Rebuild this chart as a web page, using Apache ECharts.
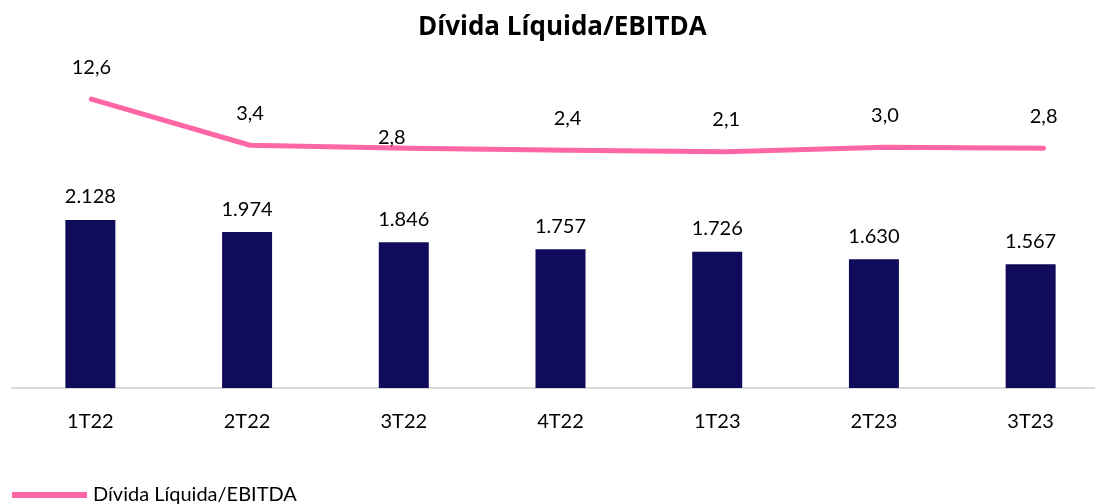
<!DOCTYPE html>
<html>
<head>
<meta charset="utf-8">
<script src="https://cdn.jsdelivr.net/npm/echarts@6/dist/echarts.min.js"></script>
<style>
  html, body { margin: 0; padding: 0; background: #fff; overflow: hidden; }
  /* the source chart is cut off on the right, so the canvas is wider than the window */
  #chart { width: 1130px; height: 504px; }
</style>
</head>
<body>
<div id="chart"></div>
<script>
// data
const categories = ['1T22', '2T22', '3T22', '4T22', '1T23', '2T23', '3T23']
const dividaLiquida = [2128, 1974, 1846, 1757, 1726, 1630, 1567]
const dividaEbitda = [12.6, 3.4, 2.8, 2.4, 2.1, 3.0, 2.8]

const font = 'Lato, "Open Sans", sans-serif'
const navy = '#110B5C'
const pink = '#FF66A6'

const fmtThousands = v => v.toLocaleString('de-DE')
const fmtComma = v => v.toFixed(1).replace('.', ',')

const chart = echarts.init(document.getElementById('chart'))

chart.setOption({
  animation: false,
  textStyle: { fontFamily: font },
  title: {
    text: 'Dívida Líquida/EBITDA',
    left: 413,
    top: 10,
    textStyle: { fontSize: 26, fontWeight: 'bold', color: '#000', fontFamily: '"Open Sans", sans-serif' },
  },
  legend: {
    left: 7,
    top: 480,
    icon: 'rect',
    itemWidth: 75,
    itemHeight: 6,
    data: ['Dívida Líquida/EBITDA'],
    textStyle: { fontSize: 20, color: '#000', padding: [0, 0, 0, 1] },
  },
  // bars and line sit on slightly different horizontal spacings in the source
  grid: [
    { left: 12, right: 21, top: 72, bottom: 116 },
    { left: 12, right: 7, top: 72, bottom: 116 },
  ],
  xAxis: [
    {
      type: 'category',
      gridIndex: 0,
      data: categories,
      axisTick: { show: false },
      axisLine: { lineStyle: { color: '#D9D9D9', width: 2 } },
      axisLabel: { color: '#000', fontSize: 20, margin: 24 },
    },
    {
      type: 'category',
      gridIndex: 1,
      data: categories,
      show: false,
    },
  ],
  yAxis: [
    { type: 'value', gridIndex: 0, min: 0, max: 4000, show: false },
    { type: 'value', gridIndex: 1, min: -45, max: 18, show: false },
  ],
  series: [
    {
      type: 'bar',
      xAxisIndex: 0,
      yAxisIndex: 0,
      data: dividaLiquida,
      barWidth: 50,
      itemStyle: { color: navy },
      label: {
        show: true,
        position: 'top',
        distance: 13,
        fontSize: 20,
        color: '#000',
        formatter: p => fmtThousands(p.value),
      },
    },
    {
      name: 'Dívida Líquida/EBITDA',
      type: 'line',
      xAxisIndex: 1,
      yAxisIndex: 1,
      clip: false,
      data: dividaEbitda.map((v, i) => i === 2
        ? { value: v, label: { distance: 0, offset: [-17, 0] } }
        : v),
      symbol: 'circle',
      symbolSize: 2,
      lineStyle: { color: pink, width: 5, cap: 'round', join: 'round' },
      itemStyle: { color: pink },
      label: {
        show: true,
        position: 'top',
        distance: 21,
        fontSize: 20,
        color: '#000',
        formatter: p => fmtComma(p.value),
      },
    },
  ],
})
</script>
</body>
</html>
